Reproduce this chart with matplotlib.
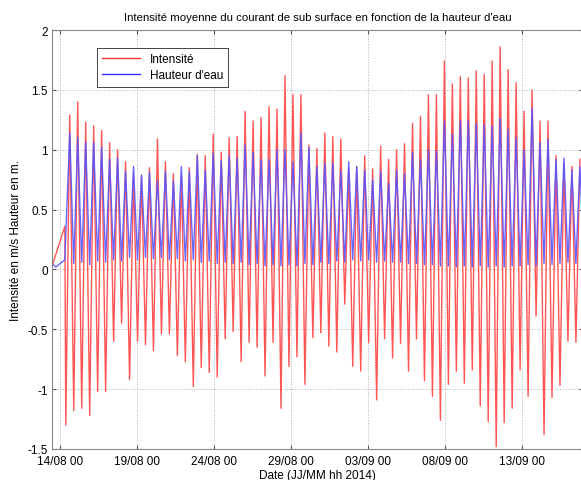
import numpy as np
import pandas as pd
import matplotlib
matplotlib.use("Agg")
import matplotlib.pyplot as plt
import matplotlib.dates as mdates

plt.rcParams['font.family'] = ['Liberation Sans', 'DejaVu Sans']

# lead-in before the first full tide
lead_red_time = pd.to_datetime(['2014-08-13 11:30', '2014-08-14 07:50'])
lead_red = [0.02, 0.36]
lead_blue_time = pd.to_datetime(['2014-08-13 11:30', '2014-08-13 17:45', '2014-08-14 07:50'])
lead_blue = [0.05, 0.02, 0.08]

# one value per tide (high water times)
high_times = pd.date_range('2014-08-14 15:30', periods=65, freq='745min')

red_max = [1.29, 1.40, 1.23, 1.20, 1.16, 1.06, 1.00, 0.90, 0.79, 0.78,
           0.85, 1.09, 0.90, 0.80, 0.79, 0.85, 0.96, 0.95, 1.13, 0.98,
           1.10, 1.11, 1.32, 1.24, 1.27, 1.36, 1.34, 1.62, 1.46, 1.46,
           1.04, 1.01, 1.14, 1.11, 1.09, 0.84, 0.86, 0.95, 0.84, 1.03,
           0.92, 1.00, 1.05, 1.22, 1.28, 1.46, 1.46, 1.74, 1.55, 1.61,
           1.60, 1.66, 1.63, 1.74, 1.86, 1.67, 1.56, 1.32, 1.50, 1.24,
           1.24, 0.95, 0.89, 0.86, 0.92]
red_min = [-1.30, -1.18, -1.16, -1.22, -1.02, -1.02, -0.60, -0.45, -0.92, -0.60,
           -0.63, -0.68, -0.54, -0.54, -0.72, -0.77, -0.98, -0.82, -0.86, -0.90,
           -0.58, -0.52, -0.77, -0.61, -0.65, -0.89, -0.61, -1.16, -0.81, -0.73,
           -0.96, -0.57, -0.53, -0.64, -0.69, -0.29, -0.81, -0.85, -0.61, -1.09,
           -0.58, -0.74, -0.62, -0.85, -0.58, -0.93, -1.06, -1.26, -0.96, -0.85,
           -0.95, -0.84, -1.14, -1.27, -1.48, -1.28, -1.16, -0.84, -1.06, -0.39,
           -1.38, -1.07, -0.97, -0.60, -0.61]
blue_max = [1.14, 1.10, 1.06, 1.06, 1.02, 0.92, 0.93, 0.82, 0.86, 0.79,
            0.81, 0.74, 0.82, 0.74, 0.86, 0.82, 0.95, 0.83, 0.97, 0.91,
            0.95, 0.93, 1.04, 0.98, 0.92, 0.92, 1.00, 1.00, 0.90, 1.14,
            1.02, 0.86, 0.89, 0.89, 0.83, 0.90, 0.86, 0.83, 0.75, 0.82,
            0.72, 0.83, 0.80, 0.98, 0.92, 1.00, 0.99, 1.24, 1.13, 1.24,
            1.24, 1.22, 1.21, 1.20, 1.26, 1.17, 1.10, 1.00, 1.35, 1.06,
            1.09, 0.92, 0.93, 0.83, 0.86]
blue_min = [0.05, 0.06, 0.04, 0.07, 0.06, 0.08, 0.07, 0.10, 0.08, 0.10,
            0.09, 0.10, 0.08, 0.09, 0.07, 0.08, 0.06, 0.07, 0.05, 0.06,
            0.05, 0.06, 0.04, 0.05, 0.03, 0.04, 0.03, 0.04, 0.03, 0.05,
            0.04, 0.06, 0.05, 0.07, 0.06, 0.08, 0.07, 0.08, 0.06, 0.07,
            0.06, 0.06, 0.05, 0.05, 0.04, 0.04, 0.03, 0.03, 0.02, 0.03,
            0.02, 0.03, 0.02, 0.03, 0.02, 0.03, 0.03, 0.04, 0.03, 0.05,
            0.04, 0.05, 0.06, 0.05, 0.06]

tick_dates = pd.date_range('2014-08-14', periods=7, freq='5D')

# interleave: red ebb just before high water, blue low just after
half = pd.Timedelta(minutes=372)
red_t = np.empty(130, dtype='datetime64[ns]')
red_v = np.empty(130)
red_t[0::2] = (high_times - half).values
red_t[1::2] = high_times.values
red_v[0::2] = red_min
red_v[1::2] = red_max
blue_t = np.empty(130, dtype='datetime64[ns]')
blue_v = np.empty(130)
blue_t[0::2] = high_times.values
blue_t[1::2] = (high_times + half).values
blue_v[0::2] = blue_max
blue_v[1::2] = blue_min

red_t = np.concatenate([lead_red_time.values, red_t])
red_v = np.concatenate([lead_red, red_v])
blue_t = np.concatenate([lead_blue_time.values, blue_t])
blue_v = np.concatenate([lead_blue, blue_v])

fig = plt.figure(figsize=(5.81, 4.81), dpi=100)
ax = fig.add_axes([52 / 581, 1 - 450 / 481, 531 / 581, 419 / 481])

ax.plot(red_t, red_v, color='#ff5555', lw=1.0, label='Intensité')
ax.plot(blue_t, blue_v, color='#5555ff', lw=1.0, alpha=0.9, label="Hauteur d'eau")

ax.set_xlim(pd.Timestamp('2014-08-13 11:50'), pd.Timestamp('2014-09-16 23:00'))
ax.set_ylim(-1.5, 2)
ax.set_yticks(np.arange(-1.5, 2.01, 0.5))
ax.set_yticklabels(['-1.5', '-1', '-0.5', '0', '0.5', '1', '1.5', '2'])
ax.set_xticks(tick_dates)
ax.xaxis.set_major_formatter(mdates.DateFormatter('%d/%m %H'))
ax.tick_params(direction='in', length=3, labelsize=8.5, top=True, right=True,
               color='#555555')
ax.tick_params(axis='x', pad=4)
ax.tick_params(axis='y', pad=3)
ax.grid(True, linestyle=':', color='#b0b0b0', linewidth=0.7)
for s in ax.spines.values():
    s.set_color('#888888')

ax.set_title("Intensité moyenne du courant de sub surface en fonction de la hauteur d'eau",
             fontsize=8.2, pad=7)
ax.set_xlabel('Date (JJ/MM hh 2014)', fontsize=8.5, labelpad=2)
ax.set_ylabel('Intensité en m/s Hauteur en m.', fontsize=8.5, labelpad=4)

leg = ax.legend(loc='upper left', bbox_to_anchor=(0.085, 0.957), borderaxespad=0,
                fontsize=8.5, fancybox=False, framealpha=1, edgecolor='#444444',
                handlelength=3.2, borderpad=0.45, labelspacing=0.35)
leg.get_frame().set_linewidth(0.7)
for line, c in zip(leg.get_lines(), ['#ff3333', '#3333ff']):
    line.set_color(c)
    line.set_linewidth(1.0)
    line.set_alpha(1)

fig.savefig('out.png', dpi=100)
